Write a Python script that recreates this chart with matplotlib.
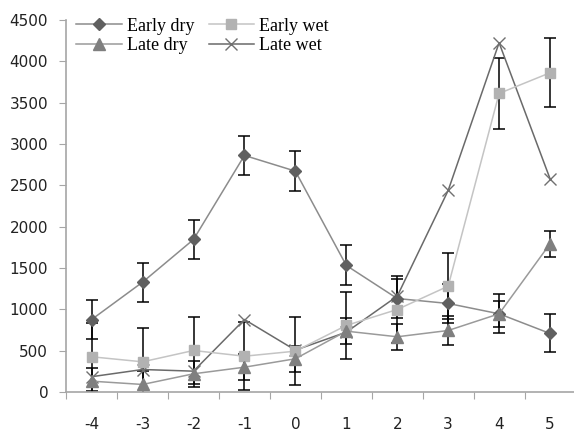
import matplotlib
matplotlib.use("Agg")
import matplotlib.pyplot as plt
from matplotlib.lines import Line2D
import numpy as np

# dados
x_vals = [-4, -3, -2, -1, 0, 1, 2, 3, 4, 5]
early_dry = [877, 1329, 1845, 2862, 2672, 1531, 1131, 1071, 946, 708]
early_dry_err = [235, 235, 235, 236, 245, 242, 240, 235, 236, 230]
early_wet = [426, 365, 502, 433, 494, 805, 998, 1280, 3612, 3862]
early_wet_err = [410, 410, 400, 410, 410, 407, 410, 400, 425, 415]
late_dry = [131, 91, 220, 300, 402, 736, 668, 744, 946, 1793]
late_dry_err = [160, 160, 160, 160, 160, 160, 160, 170, 160, 155]
late_wet = [185, 272, 252, 877, 506, 724, 1159, 2438, 4225, 2580]
y_ticks = [0, 500, 1000, 1500, 2000, 2500, 3000, 3500, 4000, 4500]

COR_SPINE = "#A6A6A6"
COR_TEXTO = "#222222"

fig = plt.figure(figsize=(5.74, 4.34), dpi=100)
ax = fig.add_axes([0.1153, 0.0968, 0.8873, 0.857])

err_kw = dict(ecolor="black", elinewidth=1.1, capsize=4, capthick=1.1)

estilos = {
    "Early dry": dict(color="#8C8C8C", marker="D", ms=6.5, mfc="#606060", mec="#606060"),
    "Early wet": dict(color="#C4C4C4", marker="s", ms=7.5, mfc="#B2B2B2", mec="#B2B2B2"),
    "Late dry": dict(color="#9A9A9A", marker="^", ms=8, mfc="#7F7F7F", mec="#7F7F7F"),
    "Late wet": dict(color="#6A6A6A", marker="x", ms=9, mew=1.0, mec="#707070"),
}

ax.errorbar(x_vals, early_dry, yerr=early_dry_err, lw=1.1, **estilos["Early dry"], **err_kw)
ax.errorbar(x_vals, early_wet, yerr=early_wet_err, lw=1.1, **estilos["Early wet"], **err_kw)
ax.errorbar(x_vals, late_dry, yerr=late_dry_err, lw=1.1, **estilos["Late dry"], **err_kw)
ax.plot(x_vals, late_wet, lw=1.1, **estilos["Late wet"])

ax.set_xlim(-4.5, 5.5)
ax.set_ylim(0, 4500)
ax.set_yticks(y_ticks)

# ticks do eixo x entre categorias, rótulos no centro
ax.set_xticks(np.arange(-4.5, 5.6, 1.0))
ax.set_xticklabels([])
ax.set_xticks(x_vals, minor=True)
ax.set_xticklabels([str(v) for v in x_vals], minor=True)
ax.tick_params(axis="x", which="major", direction="out", length=5, color=COR_SPINE)
ax.tick_params(axis="x", which="minor", length=0, pad=18, labelsize=11, labelcolor=COR_TEXTO)
ax.tick_params(axis="y", direction="out", length=5, color=COR_SPINE, pad=8,
               labelsize=11, labelcolor=COR_TEXTO)

for s in ["top", "right"]:
    ax.spines[s].set_visible(False)
for s in ["left", "bottom"]:
    ax.spines[s].set_color(COR_SPINE)
    ax.spines[s].set_linewidth(1.2)

nomes = ["Early dry", "Late dry", "Early wet", "Late wet"]
handles = [Line2D([], [], lw=1.1, **estilos[n]) for n in nomes]
leg = ax.legend(handles, nomes, ncol=2, frameon=False, loc="upper left",
                bbox_to_anchor=(0.02, 1.006), prop={"family": "Liberation Serif", "size": 13},
                handlelength=2.5, handletextpad=0.3, columnspacing=0.8,
                labelspacing=0.12, borderaxespad=0, borderpad=0)

fig.savefig("out.png", dpi=100)
